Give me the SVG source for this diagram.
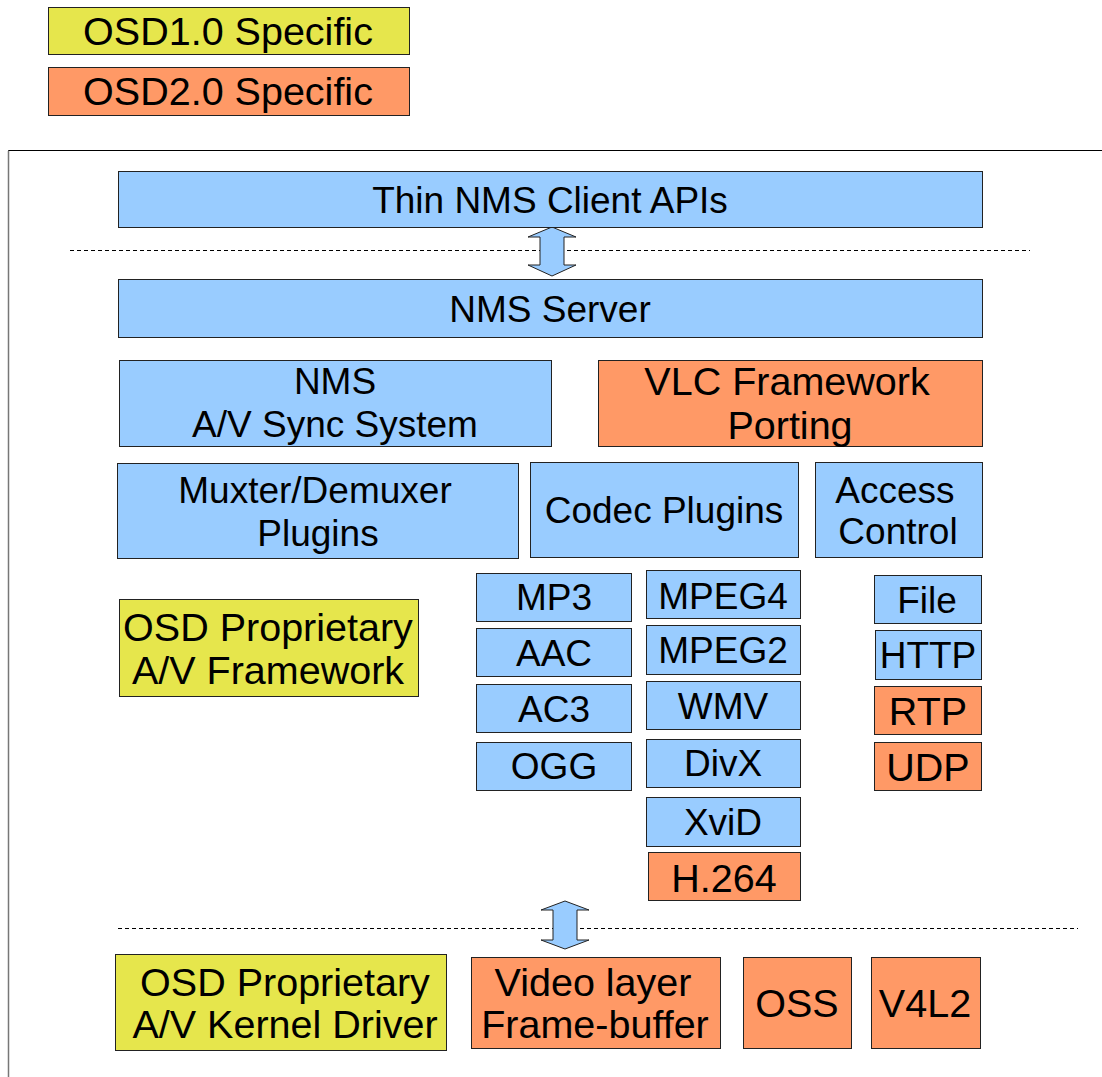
<svg xmlns="http://www.w3.org/2000/svg" width="1102" height="1077" viewBox="0 0 1102 1077">
<style>
.b{fill:#99ccff;stroke:#222;stroke-width:1}
.y{fill:#e6e64c;stroke:#222;stroke-width:1}
.o{fill:#ff9966;stroke:#222;stroke-width:1}
text{font-family:"Liberation Sans",Arial,sans-serif;fill:#000;text-anchor:middle}
.t37{font-size:37px}
.t40{font-size:39.5px}
.dash{stroke:#000;stroke-width:1;stroke-dasharray:4 3;fill:none}
.arr{fill:#99ccff;stroke:#222;stroke-width:1;stroke-linejoin:miter}
</style>
<rect width="1102" height="1077" fill="#fff"/>
<g id="legend1"><rect class="y" x="48.5" y="7.5" width="361" height="47"/><text class="t40" x="228" y="45">OSD1.0 Specific</text></g>
<g id="legend2"><rect class="o" x="48.5" y="67.5" width="361" height="48"/><text class="t40" x="228" y="105">OSD2.0 Specific</text></g>
<g id="frame"><path d="M8.5 1077 V150.5 H1102" fill="none" stroke="#000" stroke-width="1"/><line x1="8.5" y1="151" x2="8.5" y2="1077" stroke="#777" stroke-width="1.5"/></g>
<g id="connectors">
<line class="dash" x1="70" y1="250.5" x2="1030" y2="250.5"/>
<line class="dash" x1="118" y1="928.5" x2="1078" y2="928.5"/>
<path class="arr" d="M552 227 L576 237 L564 237 L564 265 L576 265 L552 276 L528 265 L540 265 L540 237 L528 237 Z"/>
<path class="arr" d="M565 901 L589 910 L577 910 L577 940 L589 940 L565 949 L541 940 L553 940 L553 910 L541 910 Z"/>
</g>
<g id="thin"><rect class="b" x="118.5" y="171.5" width="864" height="56"/><text class="t37" x="550" y="213">Thin NMS Client APIs</text></g>
<g id="server"><rect class="b" x="118.5" y="279.5" width="864" height="58"/><text class="t37" x="550" y="322">NMS Server</text></g>
<g id="sync"><rect class="b" x="119.5" y="360.5" width="432" height="86"/><text class="t37" x="335" y="394">NMS</text><text class="t37" x="335" y="437">A/V Sync System</text></g>
<g id="vlc"><rect class="o" x="598.5" y="360.5" width="384" height="86"/><text class="t40" x="787" y="395">VLC Framework</text><text class="t40" x="790" y="439">Porting</text></g>
<g id="mux"><rect class="b" x="117.5" y="463.5" width="401" height="95"/><text class="t37" x="315" y="503">Muxter/Demuxer</text><text class="t37" x="318" y="546">Plugins</text></g>
<g id="codec"><rect class="b" x="530.5" y="462.5" width="268" height="95"/><text class="t37" x="664" y="523">Codec Plugins</text></g>
<g id="access"><rect class="b" x="815.5" y="462.5" width="167" height="95"/><text class="t37" x="895" y="503">Access</text><text class="t37" x="898" y="544">Control</text></g>
<g id="osdfw"><rect class="y" x="119.5" y="599.5" width="299" height="97"/><text class="t40" x="268" y="641">OSD Proprietary</text><text class="t40" x="268" y="684">A/V Framework</text></g>
<g id="mp3"><rect class="b" x="476.5" y="573.5" width="155" height="48"/><text class="t37" x="554" y="610">MP3</text></g>
<g id="aac"><rect class="b" x="476.5" y="628.5" width="155" height="48"/><text class="t37" x="554" y="666">AAC</text></g>
<g id="ac3"><rect class="b" x="476.5" y="684.5" width="155" height="48"/><text class="t37" x="554" y="722">AC3</text></g>
<g id="ogg"><rect class="b" x="476.5" y="742.5" width="155" height="48"/><text class="t37" x="554" y="779">OGG</text></g>
<g id="mpeg4"><rect class="b" x="646.5" y="570.5" width="154" height="48"/><text class="t37" x="723" y="609">MPEG4</text></g>
<g id="mpeg2"><rect class="b" x="646.5" y="625.5" width="154" height="49"/><text class="t37" x="723" y="663">MPEG2</text></g>
<g id="wmv"><rect class="b" x="646.5" y="681.5" width="154" height="48"/><text class="t37" x="723" y="719">WMV</text></g>
<g id="divx"><rect class="b" x="646.5" y="739.5" width="154" height="48"/><text class="t37" x="723" y="776">DivX</text></g>
<g id="xvid"><rect class="b" x="646.5" y="797.5" width="154" height="49"/><text class="t37" x="723" y="835">XviD</text></g>
<g id="h264"><rect class="o" x="648.5" y="852.5" width="152" height="48"/><text class="t40" x="724" y="892">H.264</text></g>
<g id="file"><rect class="b" x="874.5" y="575.5" width="107" height="48"/><text class="t37" x="927" y="613">File</text></g>
<g id="http"><rect class="b" x="875.5" y="630.5" width="106" height="49"/><text class="t37" x="928" y="668">HTTP</text></g>
<g id="rtp"><rect class="o" x="874.5" y="686.5" width="107" height="48"/><text class="t40" x="928" y="725">RTP</text></g>
<g id="udp"><rect class="o" x="874.5" y="742.5" width="107" height="48"/><text class="t40" x="928" y="781">UDP</text></g>
<g id="osdkd"><rect class="y" x="115.5" y="954.5" width="331" height="96"/><text class="t40" x="285" y="996">OSD Proprietary</text><text class="t40" x="285" y="1038">A/V Kernel Driver</text></g>
<g id="video"><rect class="o" x="471.5" y="957.5" width="249" height="91"/><text class="t40" x="593" y="996">Video layer</text><text class="t40" x="595" y="1038">Frame-buffer</text></g>
<g id="oss"><rect class="o" x="743.5" y="957.5" width="108" height="91"/><text class="t40" x="797" y="1017">OSS</text></g>
<g id="v4l2"><rect class="o" x="871.5" y="957.5" width="109" height="91"/><text class="t40" x="925" y="1017">V4L2</text></g>
</svg>
